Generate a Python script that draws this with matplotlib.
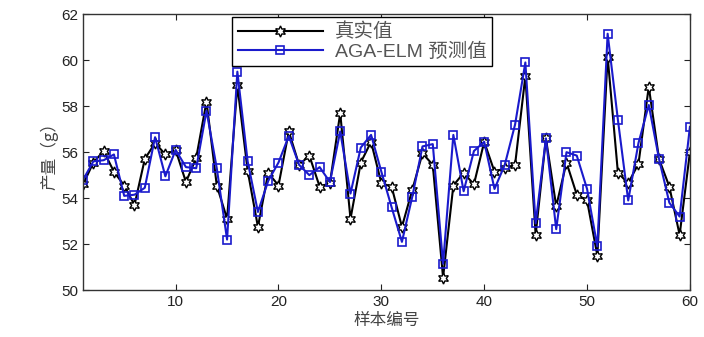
import matplotlib
matplotlib.use('Agg')
import matplotlib.pyplot as plt

plt.rcParams['font.family'] = ['Liberation Sans', 'Noto Sans CJK SC', 'DejaVu Sans']

# sample index
samples = list(range(1, 61))

# measured yield
actual = [54.6, 55.55, 56.05, 55.15, 54.55, 53.7, 55.7, 56.4, 55.9, 56.1,
          54.7, 55.75, 58.2, 54.55, 53.1, 58.9, 55.2, 52.75, 55.1, 54.55,
          56.9, 55.45, 55.85, 54.5, 54.65, 57.7, 53.1, 55.55, 56.45, 54.65,
          54.5, 52.75, 54.35, 55.95, 55.45, 50.55, 54.55, 55.1, 54.6, 56.45,
          55.15, 55.3, 55.45, 59.3, 52.4, 56.6, 53.65, 55.55, 54.15, 53.9,
          51.5, 60.15, 55.1, 54.65, 55.5, 58.85, 55.7, 54.5, 52.4, 56.0]

# AGA-ELM prediction
predicted = [54.8, 55.6, 55.65, 55.9, 54.1, 54.15, 54.45, 56.65, 54.95, 56.1,
             55.35, 55.3, 57.8, 55.3, 52.2, 59.5, 55.6, 53.4, 54.75, 55.55,
             56.7, 55.45, 55.0, 55.35, 54.7, 56.9, 54.2, 56.2, 56.75, 55.15,
             53.6, 52.1, 54.05, 56.25, 56.35, 51.15, 56.75, 54.3, 56.05, 56.45,
             54.4, 55.45, 57.2, 59.9, 52.9, 56.6, 52.65, 56.0, 55.85, 54.4,
             51.9, 61.15, 57.4, 53.9, 56.4, 58.05, 55.7, 53.8, 53.2, 57.1]

fig = plt.figure(figsize=(7.04, 3.37), dpi=100)
ax = fig.add_axes([0.118, 0.139, 0.862, 0.819])

ax.plot(samples, actual, color='black', linewidth=1.5, marker=(6, 1, 0),
        markersize=8, markerfacecolor='white', markeredgecolor='black',
        markeredgewidth=1.0, label='真实值')
ax.plot(samples, predicted, color='#1a1acc', linewidth=1.5, marker='s',
        markersize=5.5, markerfacecolor='none', markeredgecolor='#1a1acc',
        markeredgewidth=1.2, label='AGA-ELM 预测值')

ax.set_xlim(1, 60)
ax.set_ylim(50, 62)
ax.set_xticks([10, 20, 30, 40, 50, 60])
ax.set_yticks([50, 52, 54, 56, 58, 60, 62])
ax.tick_params(direction='in', top=True, right=True, labelsize=11, length=4,
               colors='#222222')
for s in ax.spines.values():
    s.set_linewidth(1.0)
    s.set_color('#333333')

ax.set_xlabel('样本编号', fontsize=12, color='#444444', labelpad=2,
              family=['Noto Sans CJK SC', 'DejaVu Sans'])
ax.set_ylabel('产量（g）', fontsize=12, color='#444444', labelpad=2,
              family=['Noto Sans CJK SC', 'DejaVu Sans'])

leg = ax.legend(loc='upper left', bbox_to_anchor=(0.245, 0.99), fontsize=14,
                handlelength=4.4, handletextpad=0.6, fancybox=False,
                framealpha=1, edgecolor='black', borderpad=0.3,
                labelspacing=0.05, borderaxespad=0)
leg.get_frame().set_linewidth(1.0)
for t in leg.get_texts():
    t.set_color('#555555')

fig.savefig('out.png', dpi=100)
